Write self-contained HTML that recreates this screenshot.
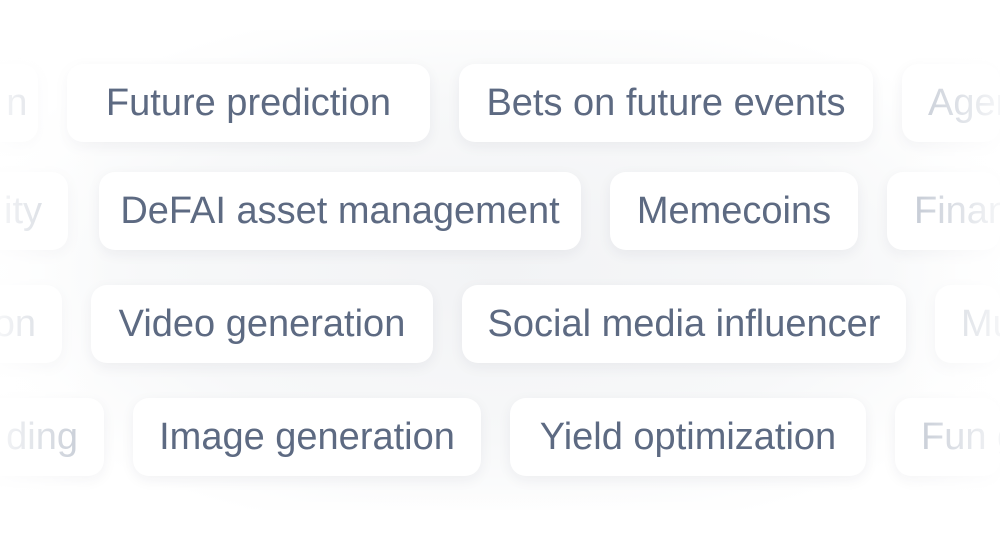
<!DOCTYPE html>
<html><head><style>
html,body{margin:0;padding:0;width:1000px;height:547px;overflow:hidden;background:#fff;font-family:"Liberation Sans",sans-serif;}
.wrap{position:absolute;left:0;top:0;width:1000px;height:547px;overflow:hidden;}
.bg{position:absolute;left:0;top:30px;width:1000px;height:480px;background:radial-gradient(ellipse at 50% 50%,#f2f3f5 0%,#f7f8f9 50%,#fff 80%);}
.p{position:absolute;height:78px;background:#fff;border-radius:16px;box-shadow:0 4px 14px rgba(30,40,60,0.06);display:flex;align-items:center;justify-content:center;font-size:38px;color:#5d6a82;white-space:nowrap;overflow:hidden;}
.f{color:#b9c0cc}
.fadeL{position:absolute;left:0;top:0;width:110px;height:547px;background:linear-gradient(90deg,rgba(255,255,255,0.85),rgba(255,255,255,0));}
.fadeR{position:absolute;right:0;top:0;width:110px;height:547px;background:linear-gradient(270deg,rgba(255,255,255,0.85),rgba(255,255,255,0));}
.fadeT{position:absolute;left:0;top:0;width:1000px;height:40px;background:linear-gradient(180deg,#fff,rgba(255,255,255,0));}
.fadeB{position:absolute;left:0;bottom:0;width:1000px;height:60px;background:linear-gradient(0deg,#fff,rgba(255,255,255,0));}
</style></head><body><div class="wrap">
<div class="bg"></div>
<div class="p f" style="left:-60px;top:64px;width:98px;justify-content:flex-end;">n&nbsp;</div>
<div class="p" style="left:67px;top:64px;width:363px;">Future prediction</div>
<div class="p" style="left:459px;top:64px;width:414px;">Bets on future events</div>
<div class="p f" style="left:902px;top:64px;width:98px;justify-content:flex-start;padding-left:26px;box-sizing:border-box">Agent</div>

<div class="p f" style="left:-120px;top:172px;width:188px;justify-content:flex-end;padding-right:26px;box-sizing:border-box">ity</div>
<div class="p" style="left:99px;top:172px;width:482px;">DeFAI asset management</div>
<div class="p" style="left:610px;top:172px;width:248px;">Memecoins</div>
<div class="p f" style="left:887px;top:172px;width:113px;justify-content:flex-start;padding-left:27px;box-sizing:border-box">Finance</div>

<div class="p f" style="left:-120px;top:285px;width:182px;justify-content:flex-end;padding-right:26px;box-sizing:border-box">on</div>
<div class="p" style="left:91px;top:285px;width:342px;">Video generation</div>
<div class="p" style="left:462px;top:285px;width:444px;">Social media influencer</div>
<div class="p f" style="left:935px;top:285px;width:65px;justify-content:flex-start;padding-left:26px;box-sizing:border-box">Music</div>

<div class="p f" style="left:-120px;top:398px;width:224px;justify-content:flex-end;padding-right:26px;box-sizing:border-box">ding</div>
<div class="p" style="left:133px;top:398px;width:348px;">Image generation</div>
<div class="p" style="left:510px;top:398px;width:356px;">Yield optimization</div>
<div class="p f" style="left:895px;top:398px;width:105px;justify-content:flex-start;padding-left:26px;box-sizing:border-box">Fun games</div>
<div class="fadeL"></div><div class="fadeR"></div><div class="fadeT"></div><div class="fadeB"></div>
</div></body></html>
